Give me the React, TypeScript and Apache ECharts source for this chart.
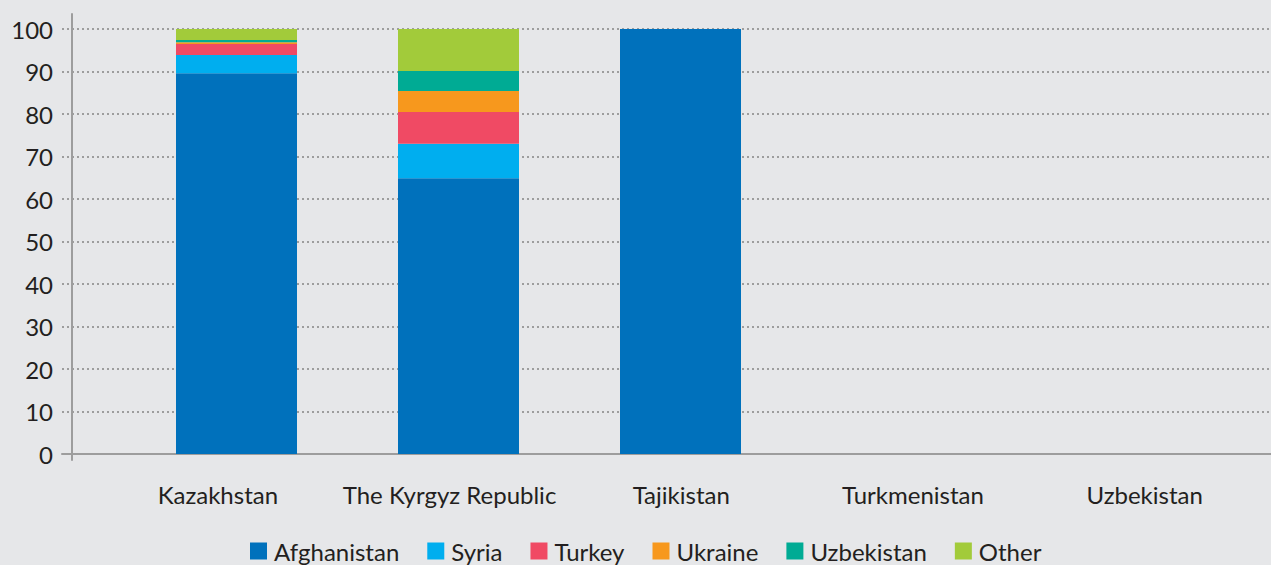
import React, { useEffect, useRef } from "react";
import * as echarts from "echarts";

const categories = ["Kazakhstan", "The Kyrgyz Republic", "Tajikistan", "Turkmenistan", "Uzbekistan"];
const yTicks = [0, 10, 20, 30, 40, 50, 60, 70, 80, 90, 100];

const afghanistan = [89.6, 64.9, 100, 0, 0];
const syria = [4.3, 8.1, 0, 0, 0];
const turkey = [2.6, 7.5, 0, 0, 0];
const ukraine = [0.4, 4.9, 0, 0, 0];
const uzbekistan = [0.5, 4.7, 0, 0, 0];
const other = [2.6, 9.9, 0, 0, 0];

const seriesNames = ["Afghanistan", "Syria", "Turkey", "Ukraine", "Uzbekistan", "Other"];
const seriesData = [afghanistan, syria, turkey, ukraine, uzbekistan, other];
const colors = ["#0071bc", "#00aeef", "#f04a64", "#f7981d", "#00ab94", "#a2cb3a"];

export default function App() {
  const ref = useRef<HTMLDivElement>(null);
  useEffect(() => {
    if (!ref.current) return;
    const chart = echarts.init(ref.current, undefined, { renderer: "svg" });
    const font = "Lato, 'Open Sans', sans-serif";
    chart.setOption({
      animation: false,
      backgroundColor: "#e6e7e9",
      textStyle: { fontFamily: font },
      legend: {
        data: seriesNames,
        bottom: -3,
        left: 245,
        itemWidth: 17,
        itemHeight: 17,
        itemGap: 28,
        icon: "rect",
        textStyle: { fontSize: 24, color: "#231f20", fontFamily: font, padding: [0, 0, 0, 2] },
      },
      grid: [
        { left: 62, right: 0, top: 29, bottom: 111 },
        { left: 72, right: 0, top: 14, bottom: 105 },
        { left: 102, right: 10.5, top: 29, bottom: 111 },
        { left: 125.5, right: 35.5, top: 29, bottom: 111 },
      ],
      xAxis: [
        {
          gridIndex: 0,
          type: "value",
          min: 0,
          max: 1,
          axisLine: { show: true, onZero: false, lineStyle: { color: "#9d9d9d", width: 2 } },
          axisTick: { show: false },
          axisLabel: { show: false },
          splitLine: { show: false },
        },
        { gridIndex: 1, type: "value", show: false },
        {
          gridIndex: 2,
          type: "category",
          data: categories,
          axisLine: { show: false },
          axisTick: { show: false },
          axisLabel: { interval: 0, fontSize: 24, color: "#231f20", margin: 28, fontFamily: font },
        },
        { gridIndex: 3, type: "category", data: categories, show: false },
      ],
      yAxis: [
        {
          gridIndex: 0,
          type: "value",
          min: yTicks[0],
          max: yTicks[yTicks.length - 1],
          interval: 10,
          axisLine: { show: false },
          axisTick: { show: false },
          axisLabel: { fontSize: 24, color: "#231f20", margin: 9, fontFamily: font },
          splitLine: { show: true, lineStyle: { color: "#9d9d9d", type: [2, 3], width: 2 } },
        },
        {
          gridIndex: 1,
          type: "value",
          axisLine: { show: true, lineStyle: { color: "#9d9d9d", width: 2 } },
          axisTick: { show: false },
          axisLabel: { show: false },
          splitLine: { show: false },
        },
        { gridIndex: 2, type: "value", show: false, min: 0, max: 100 },
        { gridIndex: 3, type: "value", show: false, min: 0, max: 100 },
      ],
      series: seriesNames.map((name, i) => ({
        name,
        type: "bar",
        stack: "total",
        xAxisIndex: 3,
        yAxisIndex: 3,
        barWidth: 121,
        data: seriesData[i],
        itemStyle: { color: colors[i] },
      })),
    });
    return () => chart.dispose();
  }, []);
  return <div ref={ref} style={{ width: 1271, height: 565, position: "absolute", left: 0, top: 0 }} />;
}
